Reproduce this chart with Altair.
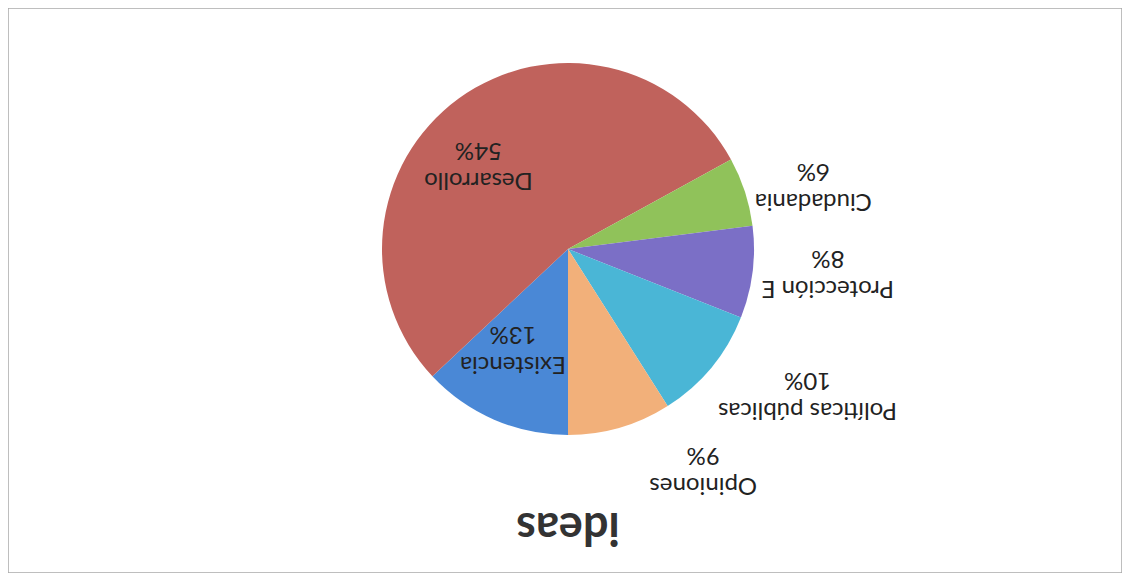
import math
import altair as alt
import pandas as pd

# ---- data ----
categories = ["Existencia", "Desarrollo", "Ciudadania", "Protección E", "Políticas públicas", "Opiniones"]
percent = [13, 54, 6, 8, 10, 9]
colors = ["#4a88d6", "#c0625c", "#90c25a", "#7b6fc6", "#4ab6d6", "#f2b07a"]
chart_title = ["ideas"]

df = pd.DataFrame({
    "cat": categories,
    "val": percent,
    "ord": list(range(len(categories))),
    "label": [f"{c}\n{v}%" for c, v in zip(categories, percent)],
})

CX, CY, R = 560, 241, 186
FONT = "Lato"

base = alt.Chart(df).encode(
    theta=alt.Theta("val:Q", stack=True, scale=alt.Scale(range=[math.pi, 3 * math.pi])),
    order=alt.Order("ord:Q"),
    x=alt.value(CX),
    y=alt.value(CY),
)

arcs = base.mark_arc(outerRadius=R).encode(
    color=alt.Color("cat:N", scale=alt.Scale(domain=categories, range=colors), legend=None)
)

text_style = dict(angle=180, font=FONT, fontSize=24, lineHeight=30, color="#222222",
                  lineBreak="\n", align="center", baseline="middle", dy=-14)


def label_layer(name, radius, theta_offset):
    # label placed at its slice's mid angle (stacked theta), nudged like Excel's best-fit labels
    return base.transform_calculate(
        txt=f"datum.cat === '{name}' ? datum.label : ''"
    ).mark_text(radius=radius, thetaOffset=theta_offset, **text_style).encode(text="txt:N")


labels = [
    label_layer("Existencia", 115, 0.09),
    label_layer("Desarrollo", 122, -0.197),
    label_layer("Ciudadania", 253, 0.066),
    label_layer("Protección E", 261, -0.03),
    label_layer("Políticas públicas", 281, -0.141),
    label_layer("Opiniones", 260, -0.264),
]

title = alt.Chart(pd.DataFrame({"t": chart_title})).mark_text(
    angle=180, font=FONT, fontSize=45, fontWeight="bold", color="#333333",
    align="center", baseline="middle"
).encode(text="t:N", x=alt.value(CX), y=alt.value(519))

chart = alt.layer(arcs, *labels, title).properties(
    width=1114, height=565, padding=0, autosize="none", background="white"
).configure_view(stroke="#a9a9a9", strokeWidth=1.5)

chart.save("out.html", embed_options={"renderer": "svg", "actions": False})
